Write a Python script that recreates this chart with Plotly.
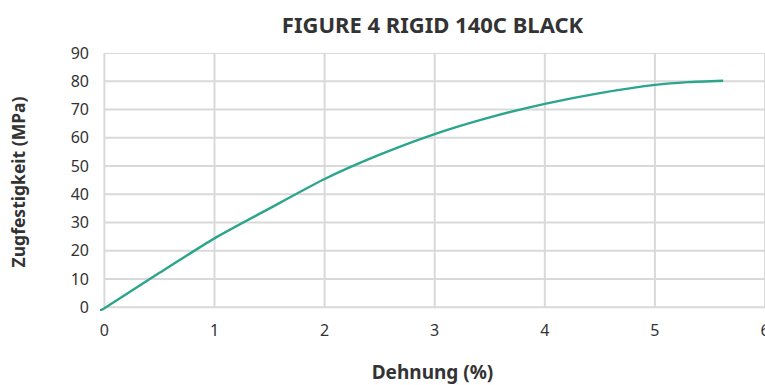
import plotly.graph_objects as go

# Data
strain = [-0.04, 0.0, 0.5, 1.0, 1.5, 2.0, 2.5, 3.0, 3.5, 4.0, 4.5, 5.0, 5.3, 5.62]
stress = [-1.2, -0.3, 12.2, 24.4, 35.0, 45.4, 54.0, 61.3, 67.2, 72.0, 75.8, 78.7, 79.7, 80.2]

x_ticks = [0, 1, 2, 3, 4, 5, 6]
y_ticks = [0, 10, 20, 30, 40, 50, 60, 70, 80, 90]

grid = "#d9d9d9"
fig = go.Figure()

# gridlines (drawn from tick arrays through the axes)
for xv in x_ticks:
    fig.add_shape(type="line", xref="x", yref="y", x0=xv, x1=xv,
                  y0=y_ticks[0], y1=y_ticks[-1],
                  line=dict(color=grid, width=2), layer="below")
for yv in y_ticks:
    fig.add_shape(type="line", xref="x", yref="y", x0=x_ticks[0], x1=x_ticks[-1],
                  y0=yv, y1=yv,
                  line=dict(color=grid, width=2), layer="below")

fig.add_trace(go.Scatter(
    x=strain, y=stress, mode="lines",
    line=dict(color="#2ca58d", width=2.4, shape="spline", smoothing=0.6),
    hoverinfo="skip", showlegend=False,
))

fig.update_layout(
    width=765, height=385,
    margin=dict(l=100, r=0, t=53, b=74, autoexpand=False),
    paper_bgcolor="white", plot_bgcolor="white",
    font=dict(family="Noto Sans", size=16, color="#333333"),
    title=dict(text="<b>FIGURE 4 RIGID 140C BLACK</b>", x=0.5, xref="paper",
               y=0.935, yref="container", xanchor="center", yanchor="middle",
               font=dict(family="Noto Sans", size=22, color="#333333")),
    xaxis=dict(range=[-0.04, 6.0], tickvals=x_ticks, showgrid=False,
               zeroline=False, showline=False, ticklabelstandoff=8,
               ticklabeloverflow="allow", automargin=False,
               title=dict(text="<b>Dehnung (%)</b>", standoff=26,
                          font=dict(size=19, color="#333333"))),
    yaxis=dict(range=[-1.3, 90], tickvals=y_ticks, showgrid=False,
               zeroline=False, showline=False, ticklabelstandoff=10,
               automargin=False,
               title=dict(text="<b>Zugfestigkeit (MPa)</b>", standoff=40,
                          font=dict(size=17.5, color="#333333"))),
)
fig.write_html("out.html")
